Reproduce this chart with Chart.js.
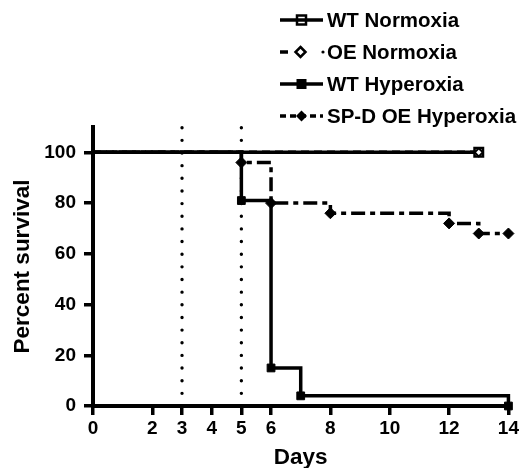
<!DOCTYPE html>
<html><head><meta charset="utf-8">
<script src="https://cdn.jsdelivr.net/npm/chart.js@4/dist/chart.umd.min.js"></script>
<style>html,body{margin:0;padding:0;background:#fff}#wrap{width:521px;height:468px;position:relative}</style>
</head><body><div id="wrap"><canvas id="c" width="521" height="468"></canvas></div>
<script>
// ---- data ----
const xTicks = [0, 2, 3, 4, 5, 6, 8, 10, 12, 14];
const yTicks = [0, 20, 40, 60, 80, 100];
const wtNormDays = [0, 13];
const wtNormSurv = [100, 100];
const oeNormDays = [0, 13];
const oeNormSurv = [100, 100];
const wtHypDays = [0, 5, 6, 7, 14];
const wtHypSurv = [100, 81, 15, 4, 0];
const oeHypDays = [0, 5, 6, 8, 12, 13, 14];
const oeHypSurv = [100, 96, 80, 76, 72, 68, 68];
const refDays = [3, 5];
const legendLabels = ['WT Normoxia', 'OE Normoxia', 'WT Hyperoxia', 'SP-D OE Hyperoxia'];
const xTitle = 'Days';
const yTitle = 'Percent survival';

const FONT = '"Liberation Sans", Arial, Helvetica, sans-serif';
const toPts = (xs, ys) => xs.map((x, i) => ({ x: x, y: ys[i] }));
const markerRadii = (xs, r) => xs.map((x, i) => (i === 0 ? 0 : r));

const refSets = refDays.map(d => ({
  data: [{ x: d, y: 0 }, { x: d, y: 110 }],
  borderColor: '#000', borderWidth: 3.4, borderDash: [0, 12.65], borderCapStyle: 'round',
  pointRadius: 0, showLine: true, clip: false, order: 10
}));

const LW = 3.5;
const datasets = [
  {
    label: legendLabels[0], data: toPts(wtNormDays, wtNormSurv), stepped: true, showLine: true,
    borderColor: '#000', borderWidth: LW, pointStyle: 'rect', pointRadius: markerRadii(wtNormDays, 6),
    pointBackgroundColor: '#fff', pointBorderColor: '#000', pointBorderWidth: 2.5, clip: false, order: 2
  },
  {
    label: legendLabels[1], data: toPts(oeNormDays, oeNormSurv), stepped: true, showLine: true,
    borderColor: '#000', borderWidth: LW, borderDash: [8, 5], pointStyle: 'rectRot', pointRadius: markerRadii(oeNormDays, 4),
    pointBackgroundColor: '#fff', pointBorderColor: '#000', pointBorderWidth: 2, clip: false, order: 1
  },
  {
    label: legendLabels[2], data: toPts(wtHypDays, wtHypSurv), stepped: true, showLine: true,
    borderColor: '#000', borderWidth: LW, pointStyle: 'rect', pointRadius: markerRadii(wtHypDays, 5.5),
    pointBackgroundColor: '#000', pointBorderColor: '#000', pointBorderWidth: 1, clip: false, order: 3
  },
  {
    label: legendLabels[3], data: toPts(oeHypDays, oeHypSurv), stepped: true, showLine: true,
    borderColor: '#000', borderWidth: LW, borderDash: [14, 5, 5, 5], pointStyle: 'rectRot', pointRadius: markerRadii(oeHypDays, 5.5),
    pointBackgroundColor: '#000', pointBorderColor: '#000', pointBorderWidth: 1, clip: false, order: 4
  }
].concat(refSets);

const legendPlugin = {
  id: 'customLegend',
  afterDraw(chart) {
    const ctx = chart.ctx;
    const rows = [20, 52, 84, 116];
    const x0 = 280, x1 = 323, xm = 301.5, tx = 327;
    ctx.save();
    ctx.strokeStyle = '#000'; ctx.fillStyle = '#000';
    rows.forEach((y, i) => {
      ctx.save();
      ctx.lineWidth = 3.5;
      if (i === 0 || i === 2) {
        ctx.beginPath(); ctx.moveTo(x0, y); ctx.lineTo(x1, y); ctx.stroke();
      } else if (i === 1) {
        ctx.beginPath(); ctx.moveTo(x0, y); ctx.lineTo(x0 + 8, y); ctx.stroke();
        ctx.beginPath(); ctx.arc(x1, y, 1.6, 0, Math.PI * 2); ctx.fill();
      } else {
        ctx.setLineDash([6, 4]);
        ctx.beginPath(); ctx.moveTo(x0, y); ctx.lineTo(x1, y); ctx.stroke();
        ctx.setLineDash([]);
      }
      ctx.restore();
      ctx.lineWidth = 2.5;
      if (i === 0) {
        ctx.strokeRect(xm - 4.5, y - 4.5, 9, 9);
      } else if (i === 1) {
        ctx.beginPath(); ctx.moveTo(xm - 1, y - 5); ctx.lineTo(xm + 4, y); ctx.lineTo(xm - 1, y + 5); ctx.lineTo(xm - 6, y); ctx.closePath();
        ctx.fillStyle = '#fff'; ctx.fill(); ctx.stroke(); ctx.fillStyle = '#000';
      } else if (i === 2) {
        ctx.fillRect(xm - 5, y - 5, 10, 10);
      } else {
        ctx.beginPath(); ctx.moveTo(xm, y - 5.5); ctx.lineTo(xm + 5.5, y); ctx.lineTo(xm, y + 5.5); ctx.lineTo(xm - 5.5, y); ctx.closePath();
        ctx.fill();
      }
      ctx.font = 'bold 20.5px ' + FONT;
      ctx.textBaseline = 'middle'; ctx.textAlign = 'left';
      ctx.fillText(legendLabels[i], tx, y + 1);
    });
    ctx.restore();
  }
};

const axisCommon = {
  type: 'linear',
  grid: { display: true, drawOnChartArea: false, drawTicks: true, tickLength: 9, color: '#000', lineWidth: 3.5 },
  border: { display: true, color: '#000', width: 4 },
  ticks: { color: '#000', font: { family: FONT, weight: 'bold', size: 19 } }
};

new Chart(document.getElementById('c'), {
  type: 'scatter',
  data: { datasets: datasets },
  options: {
    responsive: false, animation: false, devicePixelRatio: 1,
    layout: { padding: { top: 127, right: 12, left: 0, bottom: 0 } },
    plugins: { legend: { display: false }, tooltip: { enabled: false } },
    scales: {
      x: Object.assign({}, axisCommon, {
        min: 0, max: 14,
        ticks: Object.assign({}, axisCommon.ticks, { padding: 2, autoSkip: false, maxRotation: 0 }),
        afterBuildTicks: s => { s.ticks = xTicks.map(v => ({ value: v })); },
        afterFit: s => { s.height = 62; },
        title: { display: true, text: xTitle, color: '#000', font: { family: FONT, weight: 'bold', size: 22.5, lineHeight: 1.0 }, padding: { top: 0, bottom: -1.5 } }
      }),
      y: Object.assign({}, axisCommon, {
        min: 0, max: 110,
        ticks: Object.assign({}, axisCommon.ticks, { padding: 8 }),
        afterBuildTicks: s => { s.ticks = yTicks.map(v => ({ value: v })); },
        afterFit: s => { s.width = 93; },
        title: { display: true, text: yTitle, color: '#000', font: { family: FONT, weight: 'bold', size: 22.5, lineHeight: 1.2 }, padding: { top: 9, bottom: 0 } }
      })
    }
  },
  plugins: [legendPlugin]
});
</script>
</body></html>
